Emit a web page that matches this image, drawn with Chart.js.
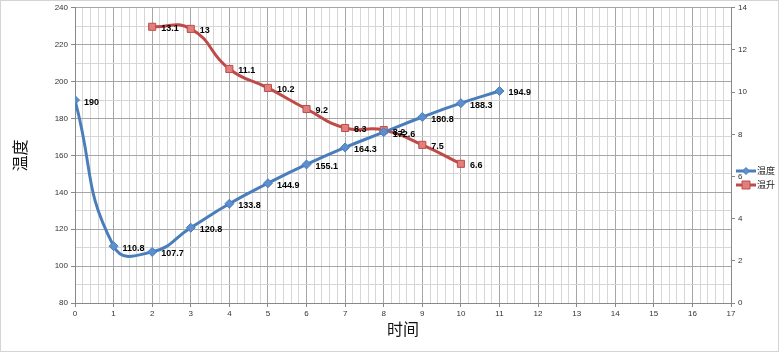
<!DOCTYPE html>
<html>
<head>
<meta charset="utf-8">
<script src="https://cdn.jsdelivr.net/npm/chart.js@4"></script>
<style>
  html, body { margin: 0; padding: 0; background: #fff; }
  #wrap { width: 780px; height: 353px; }
</style>
</head>
<body>
<div id="wrap"><canvas id="chart" width="780" height="353"></canvas></div>
<script>
// data
const tempX = [0, 1, 2, 3, 4, 5, 6, 7, 8, 9, 10, 11];
const tempValues = [190, 110.8, 107.7, 120.8, 133.8, 144.9, 155.1, 164.3, 172.6, 180.8, 188.3, 194.9];
const riseX = [2, 3, 4, 5, 6, 7, 8, 9, 10];
const riseValues = [13.1, 13, 11.1, 10.2, 9.2, 8.3, 8.2, 7.5, 6.6];

const BLUE = '#4a7ebb';
const RED = '#be4b48';
const FONT = '"Liberation Sans", Arial, sans-serif';

const isMajor = (v, step) => Math.abs(v / step - Math.round(v / step)) < 1e-6;

// point labels drawn next to each marker
const valueLabels = {
    id: 'valueLabels',
    afterDatasetsDraw(chart) {
        const ctx = chart.ctx;
        ctx.save();
        ctx.font = 'bold 9px ' + FONT;
        ctx.fillStyle = '#000';
        ctx.textBaseline = 'middle';
        chart.data.datasets.forEach((ds, i) => {
            chart.getDatasetMeta(i).data.forEach((pt, j) => {
                ctx.fillText(String(ds.data[j].y), pt.x + 9, pt.y + 2);
            });
        });
        ctx.restore();
    }
};

// excel-like legend on the right + outer frame
const sideLegend = {
    id: 'sideLegend',
    afterDraw(chart) {
        const ctx = chart.ctx;
        ctx.save();
        ctx.strokeStyle = '#d4d4d4';
        ctx.lineWidth = 1;
        ctx.strokeRect(0.5, 0.5, 778, 351);
        ctx.font = '9px "Noto Sans CJK SC", sans-serif';
        ctx.textBaseline = 'middle';
        chart.data.datasets.forEach((ds, i) => {
            const y = 171 + i * 14;
            ctx.strokeStyle = ds.borderColor;
            ctx.lineWidth = 3;
            ctx.beginPath();
            ctx.moveTo(736, y);
            ctx.lineTo(756, y);
            ctx.stroke();
            ctx.fillStyle = ds.pointBackgroundColor;
            ctx.strokeStyle = ds.pointBorderColor;
            ctx.lineWidth = 1;
            ctx.beginPath();
            if (i === 0) {
                ctx.moveTo(746, y - 3.5); ctx.lineTo(749.5, y); ctx.lineTo(746, y + 3.5); ctx.lineTo(742.5, y);
                ctx.closePath();
            } else {
                ctx.rect(742, y - 4, 8, 8);
            }
            ctx.fill();
            ctx.stroke();
            ctx.fillStyle = '#222';
            ctx.fillText(ds.label, 757, y);
        });
        ctx.restore();
    }
};

new Chart(document.getElementById('chart'), {
    type: 'line',
    data: {
        datasets: [{
            label: '温度',
            data: tempX.map((x, i) => ({ x: x, y: tempValues[i] })),
            yAxisID: 'y',
            borderColor: BLUE,
            borderWidth: 3,
            pointStyle: 'rectRot',
            pointRadius: 4.5,
            pointBackgroundColor: '#5b8fd0',
            pointBorderColor: BLUE,
            pointBorderWidth: 1,
            tension: 0.5,
            fill: false
        }, {
            label: '温升',
            data: riseX.map((x, i) => ({ x: x, y: riseValues[i] })),
            yAxisID: 'y2',
            borderColor: RED,
            borderWidth: 3,
            pointStyle: 'rect',
            pointRadius: 5,
            pointBackgroundColor: '#e0807c',
            pointBorderColor: RED,
            pointBorderWidth: 1,
            tension: 0.5,
            fill: false
        }]
    },
    options: {
        responsive: false,
        animation: false,
        layout: { padding: { top: 3, left: 0, right: 0, bottom: 0 } },
        plugins: {
            legend: { display: false },
            tooltip: { enabled: false }
        },
        scales: {
            x: {
                type: 'linear',
                min: 0,
                max: 17,
                afterBuildTicks: (s) => {
                    s.ticks = [];
                    for (let i = 0; i <= 85; i++) s.ticks.push({ value: i / 5 });
                },
                afterFit: (s) => { s.height = 50; },
                ticks: {
                    autoSkip: false,
                    maxRotation: 0,
                    padding: 2,
                    color: '#333',
                    font: { size: 8, family: FONT },
                    callback: (v) => isMajor(v, 1) ? String(Math.round(v)) : ''
                },
                grid: {
                    color: (c) => isMajor(c.tick.value, 1) ? '#a6a6a6' : '#d6d6d6',
                    tickColor: (c) => isMajor(c.tick.value, 1) ? '#888' : 'rgba(0,0,0,0)',
                    tickLength: 4,
                    lineWidth: 1
                },
                border: { color: '#888' },
                title: {
                    display: true,
                    text: '时间',
                    color: '#111',
                    font: { size: 16, family: '"Noto Sans CJK SC", sans-serif' },
                    padding: { top: 0, bottom: 14 }
                }
            },
            y: {
                type: 'linear',
                position: 'left',
                min: 80,
                max: 240,
                afterBuildTicks: (s) => {
                    s.ticks = [];
                    for (let v = 80; v <= 240; v += 10) s.ticks.push({ value: v });
                },
                afterFit: (s) => { s.width = 75; },
                ticks: {
                    autoSkip: false,
                    padding: 3,
                    color: '#333',
                    font: { size: 8, family: FONT },
                    callback: (v) => v % 20 === 0 ? String(v) : ''
                },
                grid: {
                    color: (c) => c.tick.value % 20 === 0 ? '#a6a6a6' : '#d6d6d6',
                    tickColor: (c) => c.tick.value % 20 === 0 ? '#888' : 'rgba(0,0,0,0)',
                    tickLength: 4
                },
                border: { color: '#888' },
                title: {
                    display: true,
                    text: '温度',
                    color: '#111',
                    font: { size: 16, family: '"Noto Sans CJK SC", sans-serif' },
                    padding: { top: 10, bottom: 0 }
                }
            },
            y2: {
                type: 'linear',
                position: 'right',
                min: 0,
                max: 14,
                afterFit: (s) => { s.width = 49; },
                ticks: {
                    stepSize: 2,
                    padding: 3,
                    color: '#333',
                    font: { size: 8, family: FONT }
                },
                grid: {
                    drawOnChartArea: false,
                    tickColor: '#888',
                    tickLength: 4
                },
                border: { color: '#888' }
            }
        }
    },
    plugins: [valueLabels, sideLegend]
});
</script>
</body>
</html>
